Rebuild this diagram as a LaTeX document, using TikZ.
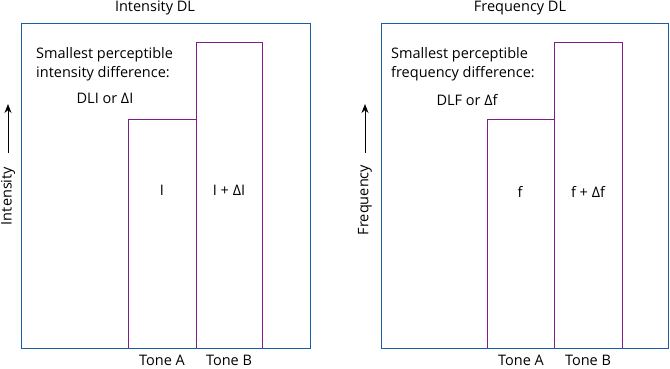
\documentclass[tikz,border=0pt]{standalone}
\usepackage{fontspec}
\setmainfont{Open Sans}
\usetikzlibrary{arrows.meta}
\definecolor{frameblue}{RGB}{28,94,166}
\definecolor{barpurple}{RGB}{128,28,140}

\begin{document}
\begin{tikzpicture}[x=1pt,y=-1pt,every node/.style={font=\fontsize{14.5}{19}\selectfont,inner sep=0pt},
  frame/.style={draw=frameblue,line width=1pt},bar/.style={draw=barpurple,line width=1pt},
  axisarrow/.style={-{Stealth[length=9pt,width=7pt]},line width=1pt}]
\useasboundingbox (0,0) rectangle (670,368);
% intensity panel
\node (ti) at (155,8) {Intensity DL};
\draw[frame] (21,23) rectangle (310,348);
\draw[bar] (128,348) -- (128,119) -- (196,119) -- (196,348);
\draw[bar] (196,119) -- (196,42) -- (262,42) -- (262,348);
\node[anchor=north west,align=left] (si) at (36,47) {Smallest perceptible\\intensity difference:};
\node (di) at (105,98) {DLI or ΔI};
\node (ia) at (162,190) {I};
\node (ib) at (229,190) {I + ΔI};
\node (tai) at (162,360) {Tone A};
\node (tbi) at (229,360) {Tone B};
\node[rotate=90] (yi) at (8,196) {Intensity};
\coordinate (yi0) at (8,153);
\coordinate (yi1) at (8,104);
\draw[axisarrow] (yi0) -- (yi1);
% frequency panel
\node (tf) at (520,8) {Frequency DL};
\draw[frame] (381,23) rectangle (668,348);
\draw[bar] (487,348) -- (487,119) -- (554,119) -- (554,348);
\draw[bar] (554,119) -- (554,42) -- (622,42) -- (622,348);
\node[anchor=north west,align=left] (sf) at (391,47) {Smallest perceptible\\frequency difference:};
\node (df) at (467,100) {DLF or Δf};
\node (fa) at (520,192) {f};
\node (fb) at (588,192) {f + Δf};
\node (taf) at (521,360) {Tone A};
\node (tbf) at (588,360) {Tone B};
\node[rotate=90] (yf) at (365,200) {Frequency};
\coordinate (yf0) at (365,153);
\coordinate (yf1) at (365,104);
\draw[axisarrow] (yf0) -- (yf1);
\end{tikzpicture}
\end{document}
